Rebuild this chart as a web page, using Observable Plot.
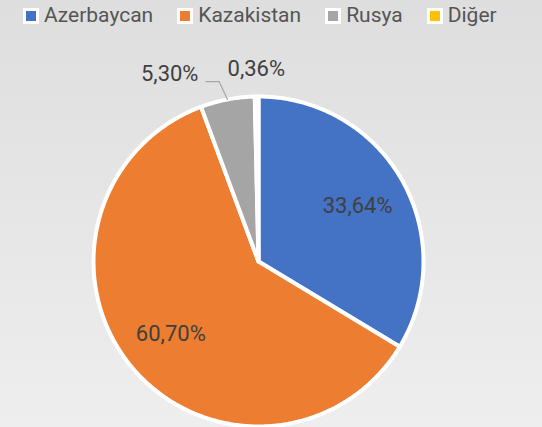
<!DOCTYPE html>
<html>
<head>
<meta charset="utf-8">
<script src="https://cdn.jsdelivr.net/npm/d3@7"></script>
<script src="https://cdn.jsdelivr.net/npm/@observablehq/plot@0.6"></script>
<style>
  html, body { margin: 0; padding: 0; }
  #wrap {
    width: 542px; height: 427px; overflow: hidden;
    background: linear-gradient(to bottom, #dedede, #eeeeee);
    font-family: Roboto, "Noto Sans", sans-serif;
  }
  #legend {
    height: 31px; display: flex; align-items: center; gap: 24px;
    padding-left: 23px; box-sizing: border-box;
  }
  .item { display: flex; align-items: center; gap: 5px; color: #555555; font-size: 21px; line-height: 1; }
  .sw { width: 10px; height: 10px; border: 3px solid #fff; }
  svg { display: block; }
</style>
</head>
<body>
<div id="wrap">
  <div id="legend"></div>
  <div id="chart"></div>
</div>
<script>
const categories = ["Azerbaycan", "Kazakistan", "Rusya", "Diğer"];
const values = [33.64, 60.70, 5.30, 0.36];
const valueLabels = ["33,64%", "60,70%", "5,30%", "0,36%"];
const colors = ["#4472c4", "#ed7d31", "#a5a5a5", "#ffc000"];

// legend
const legend = document.getElementById("legend");
categories.forEach((c, i) => {
  const it = document.createElement("div");
  it.className = "item";
  const sw = document.createElement("span");
  sw.className = "sw";
  sw.style.background = colors[i];
  const t = document.createElement("span");
  t.textContent = c;
  it.appendChild(sw); it.appendChild(t);
  legend.appendChild(it);
});

// pie geometry from data (angles in radians, 0 at top, clockwise)
const arcs = d3.pie().sort(null).startAngle(0).endAngle(2 * Math.PI)(values);
const polys = [];
arcs.forEach((a, i) => {
  polys.push({cat: categories[i], x: 0, y: 0});
  const n = Math.max(2, Math.ceil((a.endAngle - a.startAngle) / 0.01));
  for (let k = 0; k <= n; k++) {
    const t = a.startAngle + (a.endAngle - a.startAngle) * k / n;
    polys.push({cat: categories[i], x: Math.sin(t), y: Math.cos(t)});
  }
  polys.push({cat: categories[i], x: 0, y: 0});
});

const mid = a => (a.startAngle + a.endAngle) / 2;
const inside = [0, 1].map(i => {
  const m = mid(arcs[i]);
  return {label: valueLabels[i], x: Math.sin(m) * 0.69, y: Math.cos(m) * 0.69};
});
// outside labels
const mR = mid(arcs[2]);
const leader = [
  {x: Math.sin(mR), y: Math.cos(mR)},
  {x: Math.sin(mR) * 1.11 - 0.03, y: Math.cos(mR) * 1.11},
  {x: Math.sin(mR) * 1.11 - 0.11, y: Math.cos(mR) * 1.11}
];
const outside = [
  {label: valueLabels[2], x: leader[2].x - 0.045, y: leader[2].y + 0.045},
  {label: valueLabels[3], x: Math.sin(mid(arcs[3])) * 1.17, y: Math.cos(mid(arcs[3])) * 1.17}
];

const chart = Plot.plot({
  width: 542,
  height: 396,
  margin: 0,
  style: {background: "transparent", fontFamily: "Roboto, 'Noto Sans', sans-serif"},
  x: {domain: [-1, 1], range: [93, 423], axis: null},
  y: {domain: [-1, 1], range: [395, 65], axis: null},
  color: {domain: categories, range: colors},
  marks: [
    Plot.line(polys, {x: "x", y: "y", z: "cat", fill: "cat", stroke: "#fff", strokeWidth: 4, strokeLinejoin: "round", curve: "linear"}),
    Plot.line(leader, {x: "x", y: "y", stroke: "#a6a6a6", strokeWidth: 1.2}),
    Plot.text(inside, {x: "x", y: "y", text: "label", fontSize: 22, fill: "#404040"}),
    Plot.text(outside.slice(0, 1), {x: "x", y: "y", text: "label", fontSize: 22, fill: "#404040", textAnchor: "end"}),
    Plot.text(outside.slice(1), {x: "x", y: "y", text: "label", fontSize: 22, fill: "#404040", textAnchor: "middle"})
  ]
});
document.getElementById("chart").appendChild(chart);
</script>
</body>
</html>
